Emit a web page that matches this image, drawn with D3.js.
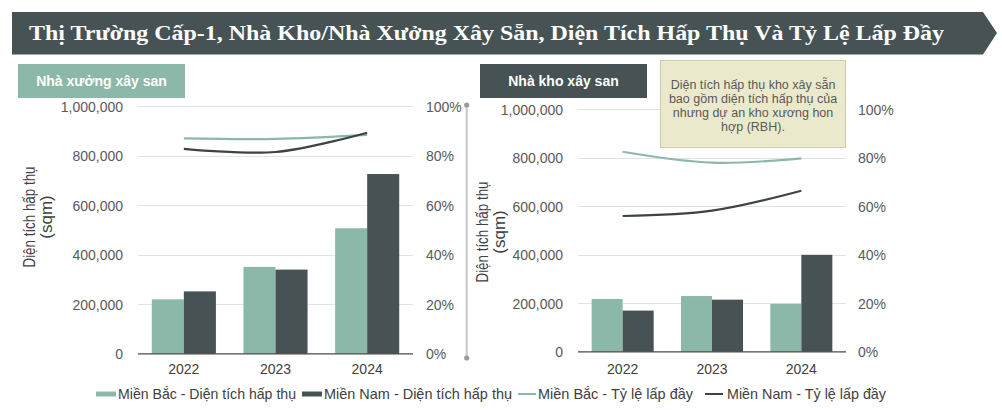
<!DOCTYPE html>
<html>
<head>
<meta charset="utf-8">
<script src="https://cdn.jsdelivr.net/npm/d3@7/dist/d3.min.js"></script>
<style>
  html, body { margin: 0; padding: 0; background: #ffffff; }
  svg { display: block; font-family: "Liberation Sans", Arial, sans-serif; }
</style>
</head>
<body>
<svg id="chart" width="1002" height="410"></svg>
<script>
// ---------- DATA ----------
const years = ["2022", "2023", "2024"];
const seriesKeys = ["north", "south"];

const factoryNorthAbsorption = [220000, 351000, 507000];
const factorySouthAbsorption = [252000, 340000, 726000];
const factoryNorthOccupancy = [0.870, 0.868, 0.884];
const factorySouthOccupancy = [0.828, 0.815, 0.893];

const warehouseNorthAbsorption = [218000, 230000, 198000];
const warehouseSouthAbsorption = [170000, 215000, 400000];
const warehouseNorthOccupancy = [0.825, 0.780, 0.798];
const warehouseSouthOccupancy = [0.560, 0.582, 0.664];

const areaTicks = [0, 200000, 400000, 600000, 800000, 1000000];
const pctTicks = [0, 0.2, 0.4, 0.6, 0.8, 1.0];

const titleText = "Thị Trường Cấp-1, Nhà Kho/Nhà Xưởng Xây Sẵn, Diện Tích Hấp Thụ Và Tỷ Lệ Lấp Đầy";
const factoryLabel = "Nhà xưởng xây san";
const warehouseLabel = "Nhà kho xây san";
const axisTitleLines = ["Diện tích hấp thụ", "(sqm)"];
const noteLines = ["Diện tích hấp thụ kho xây sẵn", "bao gồm diện  tích hấp thụ của", "nhưng  dự an  kho xương  hon", "hợp (RBH)."];
const legendLabels = ["Miền Bắc - Diện tích hấp thụ", "Miền Nam - Diện tích hấp thụ", "Miền Bắc - Tỷ lệ lấp đầy", "Miền Nam - Tỷ lệ lấp đầy"];

// ---------- STYLE ----------
const GREEN = "#8cb8aa";
const DARK = "#475254";
const DARK_LINE = "#3b4345";
const BANNER = "#465253";
const TICK_COLOR = "#595959";
const NARROW = "'Liberation Sans Narrow', 'Arial Narrow', 'Liberation Sans', Arial, sans-serif";

const svg = d3.select("#chart");

// ---------- TITLE BANNER ----------
svg.append("path")
  .attr("d", "M12,12 L983,12 L997,33 L983,54.5 L12,54.5 Z")
  .attr("fill", BANNER);
svg.append("text")
  .attr("x", 29).attr("y", 40)
  .attr("fill", "#ffffff")
  .attr("font-family", "'Liberation Serif', 'Times New Roman', serif")
  .attr("font-weight", "bold")
  .attr("font-size", 21.5)
  .attr("textLength", 915).attr("lengthAdjust", "spacingAndGlyphs")
  .text(titleText);

// ---------- CHART FUNCTION ----------
function drawPanel(cfg) {
  const g = svg.append("g");

  const x = d3.scaleBand().domain(years).range([cfg.x0, cfg.x1]).paddingInner(0).paddingOuter(0);
  const xs = d3.scaleBand().domain(seriesKeys).range([0, x.bandwidth()]).paddingInner(0).paddingOuter(cfg.pad);
  const y = d3.scaleLinear().domain([0, 1000000]).range([cfg.yBottom, cfg.yTop]);
  const yp = d3.scaleLinear().domain([0, 1]).range([cfg.yBottom, cfg.yTop]);

  // gridlines
  g.append("g").selectAll("line").data(areaTicks.slice(1)).join("line")
    .attr("x1", cfg.x0).attr("x2", cfg.x1)
    .attr("y1", d => Math.round(y(d)) + 0.5).attr("y2", d => Math.round(y(d)) + 0.5)
    .attr("stroke", "#e1e4e3").attr("stroke-width", 1);

  // left axis
  const yAxis = d3.axisLeft(y).tickValues(areaTicks).tickSize(0).tickPadding(0)
    .tickFormat(d3.format(","));
  const ga = g.append("g").attr("transform", `translate(${cfg.leftLabelX},0)`).call(yAxis);
  ga.select(".domain").remove();
  ga.selectAll("text").attr("font-size", 14).attr("fill", TICK_COLOR)
    .attr("font-family", "'Liberation Sans', Arial, sans-serif").attr("dy", "0.35em");

  // right axis
  const ypAxis = d3.axisRight(yp).tickValues(pctTicks).tickSize(0).tickPadding(0)
    .tickFormat(d3.format(".0%"));
  const gp = g.append("g").attr("transform", `translate(${cfg.rightLabelX},0)`).call(ypAxis);
  gp.select(".domain").remove();
  gp.selectAll("text").attr("font-size", 14).attr("fill", TICK_COLOR)
    .attr("font-family", "'Liberation Sans', Arial, sans-serif").attr("dy", "0.35em");

  // bars
  const rows = years.map((yr, i) => ({ year: yr, north: cfg.northAbs[i], south: cfg.southAbs[i] }));
  const grp = g.append("g").selectAll("g").data(rows).join("g")
    .attr("transform", d => `translate(${x(d.year)},0)`);
  grp.selectAll("rect").data(d => seriesKeys.map(k => ({ key: k, value: d[k] }))).join("rect")
    .attr("x", d => xs(d.key))
    .attr("width", xs.bandwidth())
    .attr("y", d => y(d.value))
    .attr("height", d => y(0) - y(d.value))
    .attr("fill", d => d.key === "north" ? GREEN : DARK);

  // baseline
  g.append("line")
    .attr("x1", cfg.x0).attr("x2", cfg.x1)
    .attr("y1", y(0)).attr("y2", y(0))
    .attr("stroke", "#4a4a4a").attr("stroke-width", 1.2);

  // year labels
  const xAxis = d3.axisBottom(x).tickSize(0).tickPadding(0);
  const gx = g.append("g").attr("transform", `translate(0,${cfg.yearY})`).call(xAxis);
  gx.select(".domain").remove();
  gx.selectAll("text").attr("font-size", 14).attr("fill", "#404040")
    .attr("font-family", "'Liberation Sans', Arial, sans-serif").attr("dy", "0.35em");

  // lines
  const line = d3.line()
    .x((d, i) => x(years[i]) + x.bandwidth() / 2)
    .y(d => yp(d))
    .curve(d3.curveCatmullRom.alpha(0.5));
  g.append("path").datum(cfg.northOcc).attr("d", line)
    .attr("fill", "none").attr("stroke", GREEN).attr("stroke-width", 2.2);
  g.append("path").datum(cfg.southOcc).attr("d", line)
    .attr("fill", "none").attr("stroke", DARK_LINE).attr("stroke-width", 2.2);

  // panel label box
  g.append("rect")
    .attr("x", cfg.labelBox[0]).attr("y", cfg.labelBox[1])
    .attr("width", cfg.labelBox[2]).attr("height", cfg.labelBox[3])
    .attr("fill", cfg.labelFill);
  g.append("text")
    .attr("x", cfg.labelBox[0] + cfg.labelBox[2] / 2)
    .attr("y", cfg.labelBox[1] + cfg.labelBox[3] / 2)
    .attr("dy", "0.35em")
    .attr("text-anchor", "middle")
    .attr("fill", "#ffffff")
    .attr("font-weight", "bold")
    .attr("font-size", 14)
    .text(cfg.label);

  // axis title
  const at = g.append("text")
    .attr("transform", `translate(${cfg.axisTitleX},${cfg.axisTitleY}) rotate(-90)`)
    .attr("text-anchor", "middle")
    .attr("fill", "#404040")
    .attr("font-family", NARROW)
    .attr("font-size", 17);
  axisTitleLines.forEach((t, i) => {
    const ts = at.append("tspan").attr("x", 0).attr("y", i * 17).attr("dy", "0.35em").text(t);
    if (i === 0) ts.attr("textLength", 101).attr("lengthAdjust", "spacingAndGlyphs");
  });
  return { x, y, yp };
}

drawPanel({
  x0: 138, x1: 413, pad: 0.43,
  yBottom: 353.8, yTop: 106.2,
  leftLabelX: 123, rightLabelX: 426, yearY: 369.5,
  northAbs: factoryNorthAbsorption, southAbs: factorySouthAbsorption,
  northOcc: factoryNorthOccupancy, southOcc: factorySouthOccupancy,
  labelBox: [18, 64, 167, 34], labelFill: GREEN, label: factoryLabel,
  axisTitleX: 29, axisTitleY: 217
});

drawPanel({
  x0: 578, x1: 846, pad: 0.44,
  yBottom: 351.8, yTop: 109.3,
  leftLabelX: 563, rightLabelX: 858, yearY: 369.5,
  northAbs: warehouseNorthAbsorption, southAbs: warehouseSouthAbsorption,
  northOcc: warehouseNorthOccupancy, southOcc: warehouseSouthOccupancy,
  labelBox: [480, 64, 167, 34], labelFill: BANNER, label: warehouseLabel,
  axisTitleX: 482, axisTitleY: 232
});

// ---------- DIVIDER ----------
svg.append("line").attr("x1", 466.7).attr("x2", 466.7).attr("y1", 105).attr("y2", 358)
  .attr("stroke", "#c8c8c8").attr("stroke-width", 2);
svg.append("circle").attr("cx", 466.7).attr("cy", 105).attr("r", 2.6).attr("fill", "#9a9a9a");
svg.append("circle").attr("cx", 466.7).attr("cy", 358).attr("r", 2.6).attr("fill", "#9a9a9a");

// ---------- NOTE BOX ----------
svg.append("rect").attr("x", 660.5).attr("y", 60.5).attr("width", 185).attr("height", 87)
  .attr("fill", "#ebe9cb").attr("stroke", "#a8a46a").attr("stroke-width", 1)
  .attr("stroke-dasharray", "1,1");
const note = svg.append("text").attr("text-anchor", "middle").attr("fill", "#595959").attr("font-size", 12.5);
noteLines.forEach((t, i) => {
  note.append("tspan").attr("x", 753).attr("y", 84.5 + i * 14).attr("dy", "0.35em").text(t);
});

// ---------- LEGEND ----------
const legendItems = [
  { type: "rect", color: GREEN, mx: 96, tx: 118, w: 178 },
  { type: "rect", color: DARK, mx: 302, tx: 324, w: 188 },
  { type: "line", color: GREEN, mx: 518, tx: 538, w: 155 },
  { type: "line", color: DARK_LINE, mx: 705, tx: 727, w: 159 }
];
const lg = svg.append("g");
legendItems.forEach((it, i) => {
  if (it.type === "rect") {
    lg.append("rect").attr("x", it.mx).attr("y", 391.5).attr("width", 20).attr("height", 5).attr("fill", it.color);
  } else {
    lg.append("line").attr("x1", it.mx).attr("x2", it.mx + 18).attr("y1", 394).attr("y2", 394)
      .attr("stroke", it.color).attr("stroke-width", 2);
  }
  lg.append("text").attr("x", it.tx).attr("y", 394).attr("dy", "0.35em")
    .attr("font-size", 14.5).attr("fill", "#404040")
    .attr("font-family", NARROW)
    .attr("textLength", it.w).attr("lengthAdjust", "spacingAndGlyphs")
    .text(legendLabels[i]);
});
</script>
</body>
</html>
